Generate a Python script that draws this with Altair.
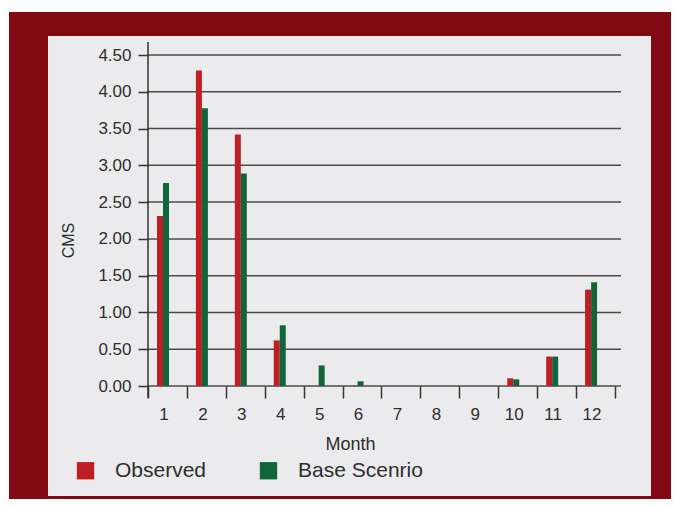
import altair as alt
import pandas as pd

months = ["1", "2", "3", "4", "5", "6", "7", "8", "9", "10", "11", "12"]
observed = [2.31, 4.29, 3.42, 0.62, 0.0, 0.0, 0.0, 0.0, 0.0, 0.105, 0.40, 1.31]
base_scenario = [2.76, 3.775, 2.89, 0.825, 0.28, 0.064, 0.0, 0.0, 0.0, 0.09, 0.40, 1.41]
series = ["Observed", "Base Scenrio"]
colors = ["#BE1E24", "#10663A"]
y_ticks = [0.0, 0.5, 1.0, 1.5, 2.0, 2.5, 3.0, 3.5, 4.0, 4.5]

rows = []
for m, o, b in zip(months, observed, base_scenario):
    rows.append({"Month": m, "Series": series[0], "CMS": o})
    rows.append({"Month": m, "Series": series[1], "CMS": b})
df = pd.DataFrame(rows)
grid_df = pd.DataFrame({"CMS": y_ticks})

W, H = 467, 331
FONT = "Liberation Sans"
TXT = "#2e2e2e"

one = pd.DataFrame({"a": [0]})

y_axis = alt.Axis(
    title="CMS",
    zindex=1,
    values=y_ticks,
    format=".2f",
    labelFont=FONT,
    labelFontSize=17,
    labelColor=TXT,
    labelPadding=7,
    labelOverlap=False,
    tickSize=10,
    tickColor="#333333",
    tickWidth=1.5,
    domain=False,
    grid=False,
    titleFont=FONT,
    titleFontSize=16,
    titleFontWeight="normal",
    titleColor=TXT,
    titleAngle=270,
    titleX=-80,
    titleY=185,
    titleAlign="center",
    titleBaseline="middle",
)

frame = alt.Chart(one).mark_rect(color="#800914").encode(
    x=alt.value(-139), x2=alt.value(523), y=alt.value(-43), y2=alt.value(444)
)
panel = alt.Chart(one).mark_rect(color="#EBEBED").encode(
    x=alt.value(-100), x2=alt.value(503), y=alt.value(-19), y2=alt.value(441)
)
yscale = alt.Scale(domain=[0, 4.5], nice=False)
grid = alt.Chart(grid_df).mark_rule(color="#4a4a4a", strokeWidth=1.5).encode(
    y=alt.Y("CMS:Q", scale=yscale, axis=y_axis),
    x=alt.value(0),
    x2=alt.value(473),
)
yline = alt.Chart(one).mark_rule(color="#333333", strokeWidth=1.5).encode(
    x=alt.value(0), y=alt.value(-13), y2=alt.value(343)
)

bars = alt.Chart(df).mark_bar().encode(
    x=alt.X(
        "Month:N",
        sort=months,
        scale=alt.Scale(paddingInner=0, paddingOuter=0),
        axis=alt.Axis(
            title="Month",
            zindex=1,
            labelAngle=0,
            labelFont=FONT,
            labelFontSize=17,
            labelColor=TXT,
            labelPadding=8,
            labelOffset=-4,
            labelOverlap=False,
            tickBand="extent",
            tickSize=12,
            tickColor="#333333",
            tickWidth=1.5,
            domain=False,
            titleFont=FONT,
            titleFontSize=18,
            titleFontWeight="normal",
            titleColor=TXT,
            titleX=202,
            titleY=63,
            titleBaseline="alphabetic",
            titleAlign="center",
            grid=False,
        ),
    ),
    xOffset=alt.XOffset("Series:N", sort=series, scale=alt.Scale(range=[9, 21], paddingInner=0, paddingOuter=0)),
    y=alt.Y("CMS:Q", scale=yscale, axis=y_axis),
    color=alt.Color(
        "Series:N",
        sort=series,
        scale=alt.Scale(domain=series, range=colors),
        legend=alt.Legend(
            title=None,
            orient="none",
            legendX=-73,
            legendY=405,
            direction="horizontal",
            symbolType="square",
            symbolSize=300,
            symbolStrokeWidth=0,
            symbolOpacity=1,
            labelFont=FONT,
            labelFontSize=21,
            labelColor=TXT,
            labelOffset=19,
            columnPadding=51,
        ),
    ),
)

chart = alt.layer(frame, panel, grid, bars, yline).properties(
    width=W,
    height=H,
    background="white",
    padding={"left": 140, "top": 47, "right": 56, "bottom": 113},
    autosize=alt.AutoSizeParams(type="none"),
).configure_view(stroke=None)

chart.save("out.html", embed_options={"renderer": "svg", "actions": False})
